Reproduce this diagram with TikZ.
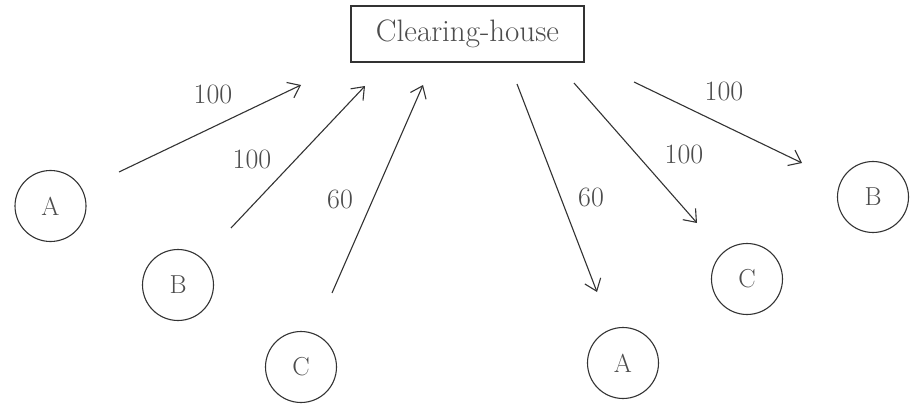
\documentclass[tikz,border=0pt]{standalone}
\usepackage{fontspec}
\usetikzlibrary{arrows.meta}
\begin{document}
\begin{tikzpicture}[x=1pt,y=-1pt,
  ink/.style={draw=black!80, line width=1.1pt},
  party/.style={ink, circle, minimum size=71pt, inner sep=0pt,
    font=\fontsize{26}{29}\selectfont, text=black!70},
  house/.style={ink, rectangle, minimum width=233pt, minimum height=56pt,
    inner sep=0pt, font=\fontsize{31}{35}\selectfont, text=black!70},
  amount/.style={font=\fontsize{28}{31}\selectfont, text=black!70, inner sep=0pt},
  flow/.style={ink, -{Straight Barb[length=11pt,width=17pt,line width=1.1pt]}}]
  \useasboundingbox (0,0) rectangle (915,406);

  % central clearing-house
  \node[house] (ch) at (467.5,34) {Clearing-house};

  % paying parties (left)
  \node[party] (pa) at (50.5,206) {A};
  \node[party] (pb) at (178,285) {B};
  \node[party] (pc) at (301,367) {C};

  % receiving parties (right)
  \node[party] (ra) at (623,363) {A};
  \node[party] (rc) at (747,279) {C};
  \node[party] (rb) at (873,197) {B};

  % arrow end points
  \coordinate (s1) at (119,172);  \coordinate (e1) at (301,85);
  \coordinate (s2) at (231,228);  \coordinate (e2) at (365,86);
  \coordinate (s3) at (332,293);  \coordinate (e3) at (423,85);
  \coordinate (s4) at (517,84);   \coordinate (e4) at (597,292);
  \coordinate (s5) at (574,83);   \coordinate (e5) at (697,223);
  \coordinate (s6) at (634,82);   \coordinate (e6) at (802,163);

  % payments into the clearing-house
  \draw[flow] (s1) -- (e1);
  \draw[flow] (s2) -- (e2);
  \draw[flow] (s3) -- (e3);

  % payments out of the clearing-house
  \draw[flow] (s4) -- (e4);
  \draw[flow] (s5) -- (e5);
  \draw[flow] (s6) -- (e6);

  % amounts
  \node[amount] (l1) at (213,94)  {100};
  \node[amount] (l2) at (252,159) {100};
  \node[amount] (l3) at (340,199) {60};
  \node[amount] (l4) at (591,197) {60};
  \node[amount] (l5) at (684,154) {100};
  \node[amount] (l6) at (724,91)  {100};
\end{tikzpicture}
\end{document}
